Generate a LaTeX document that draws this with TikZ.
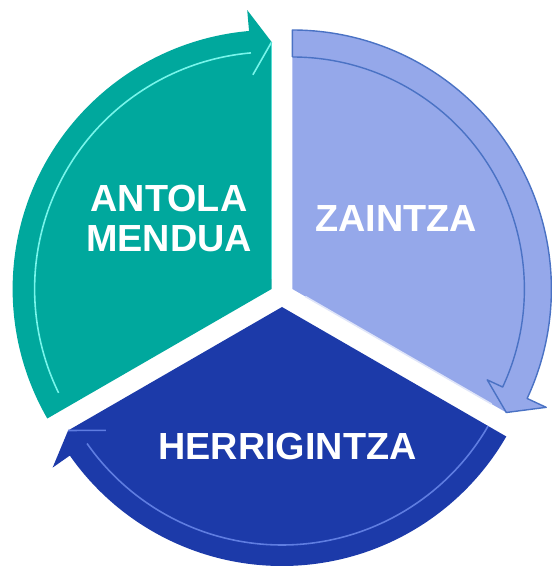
\documentclass[tikz,border=0pt]{standalone}
\usepackage{fontspec}
\setmainfont{Liberation Sans}
\usepackage{xcolor}
\usepackage{tikz}
\usetikzlibrary{positioning}

\definecolor{tealpart}{RGB}{0,168,157}
\definecolor{tealglow}{RGB}{120,245,235}
\definecolor{lightpart}{RGB}{149,168,234}
\definecolor{lightedge}{RGB}{74,114,196}
\definecolor{darkpart}{RGB}{28,58,169}
\definecolor{darkglow}{RGB}{95,125,225}

\begin{document}
\begin{tikzpicture}[
    partlabel/.style={text=white, font=\fontsize{21.5}{23}\selectfont\bfseries, align=center, inner sep=0pt},
    glow/.style={line width=0.9pt},
    rim/.style={line width=0.8pt, draw=lightedge, line join=round}
  ]
    \useasboundingbox (-5.64,-5.42) rectangle (5.40,5.90);
    % antolamendua part, upper left
    \begin{scope}[shift={(150:0.24)}]
      \fill[tealpart] (0,0) -- (90:4.94) -- (95:5.6) -- (95:5.18)
        arc[start angle=95, end angle=210, radius=5.18] -- cycle;
      \draw[glow, tealglow] (95:4.3) -- (90:4.94);
      \draw[glow, tealglow] (95:4.74) arc[start angle=95, end angle=206, radius=4.74];
      \draw[glow, tealglow!70!tealpart] (90:0.2) -- (90:4.94);
    \end{scope}
    % zaintza part, right
    \begin{scope}[shift={(30:0.24)}]
      \fill[lightpart] (0,0) -- (90:5.18)
        arc[start angle=90, end angle=-25, radius=5.18] -- (-25:5.6) -- (-30:4.94) -- cycle;
      \draw[rim] (90:4.64) -- (90:5.18) arc[start angle=90, end angle=-25, radius=5.18]
        -- (-25:5.6) -- (-30:4.94) -- (-25:4.3) -- (-25:4.64)
        arc[start angle=-25, end angle=90, radius=4.64];
      \draw[glow, white!70!lightpart] (-30:0.3) -- (-30:4.6);
    \end{scope}
    % herrigintza part, bottom
    \begin{scope}[shift={(270:0.24)}]
      \fill[darkpart] (0,0) -- (-30:5.18)
        arc[start angle=-30, end angle=-145, radius=5.18] -- (215:5.6) -- (210:4.94) -- cycle;
      \draw[glow, darkglow] (215:4.3) -- (210:4.94);
      \draw[glow, darkglow] (215:4.76) arc[start angle=215, end angle=330, radius=4.76];
    \end{scope}
    \node[partlabel] (antola) at (-2.26,1.53) {ANTOLA\\MENDUA};
    \node[partlabel] (zaintza) at (2.28,1.53) {ZAINTZA};
    \node[partlabel] (herri) at (0.11,-3.02) {HERRIGINTZA};
  \end{tikzpicture}
\end{document}
